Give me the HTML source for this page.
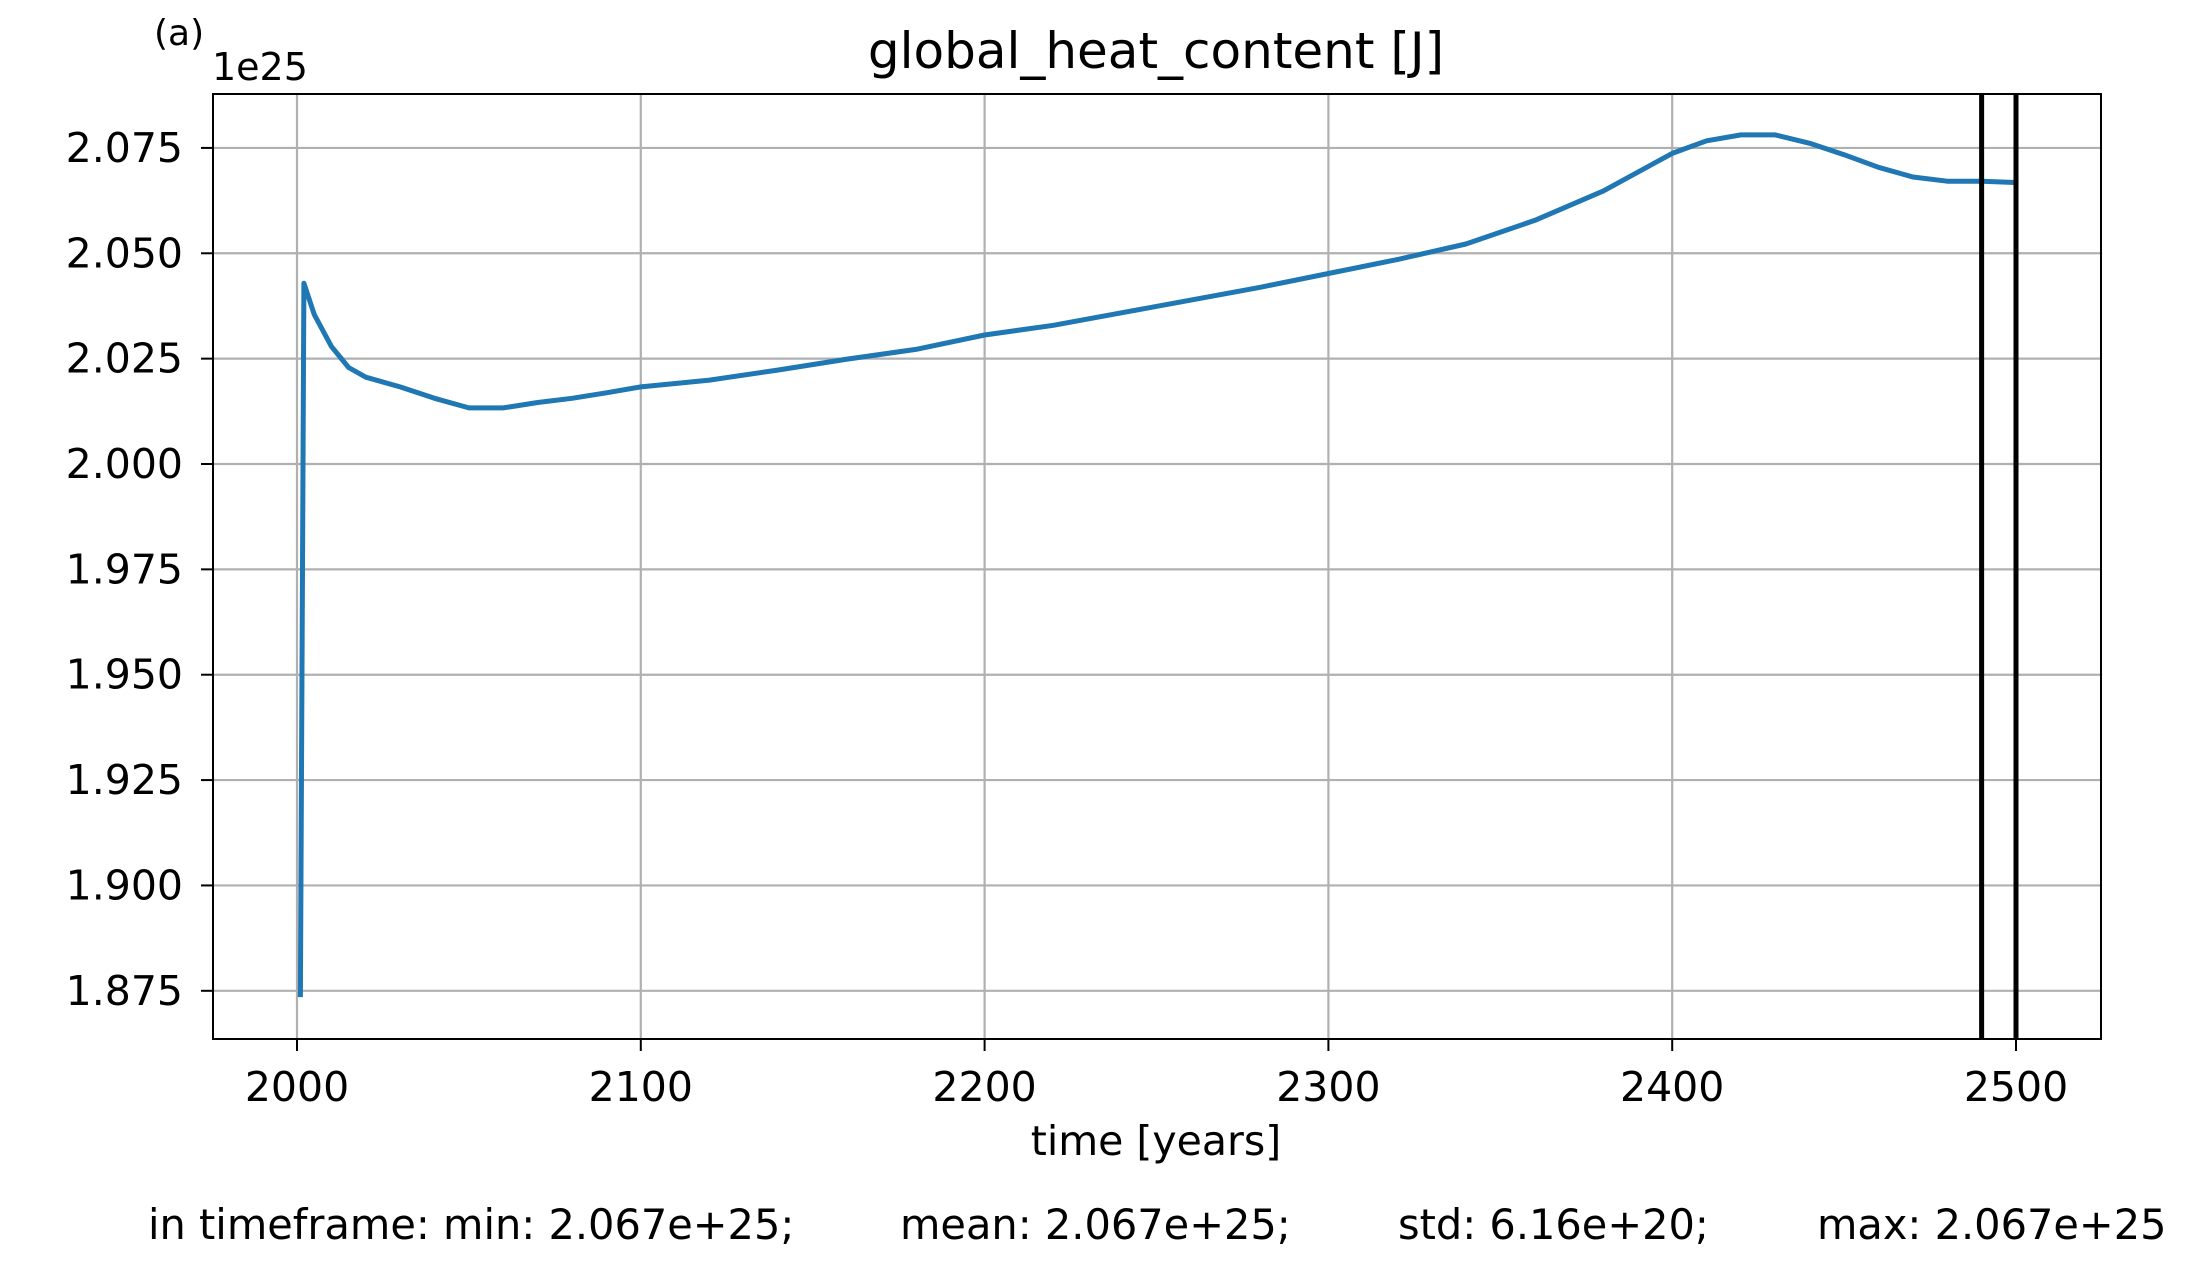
<!DOCTYPE html>
<html><head><meta charset="utf-8"><style>
html,body{margin:0;padding:0;background:#fff}
svg{display:block;font-family:"DejaVu Sans","Liberation Sans",sans-serif}
</style></head><body>
<svg id="chart" width="2196" height="1263" viewBox="0 0 2196 1263">
<rect width="2196" height="1263" fill="#fff"/>
<g id="grid"></g>
<g id="series"></g>
<rect x="213" y="94" width="1888" height="945" fill="none" stroke="#000" stroke-width="2"/>
<g id="ticks"></g>
<text x="154" y="45" font-size="36">(a)</text>
<text x="212" y="80" font-size="38">1e25</text>
<text x="1156" y="68" font-size="50" text-anchor="middle">global_heat_content [J]</text>
<text x="1156" y="1155" font-size="41" text-anchor="middle">time [years]</text>
<text x="148" y="1239" font-size="41.5">in timeframe: min: 2.067e+25;</text>
<text x="900" y="1239" font-size="41.5">mean: 2.067e+25;</text>
<text x="1398" y="1239" font-size="41.5">std: 6.16e+20;</text>
<text x="1817" y="1239" font-size="41.5">max: 2.067e+25</text>
</svg>
<script>
const years=[2001,2002,2005,2010,2015,2020,2030,2040,2050,2060,2070,2080,2090,2100,2120,2140,2160,2180,2200,2220,2240,2260,2280,2300,2320,2340,2360,2380,2400,2410,2420,2430,2440,2450,2460,2470,2480,2490,2500];
const heat=[1.8741,2.0429,2.0355,2.0279,2.0229,2.0206,2.0183,2.0156,2.0133,2.0133,2.0146,2.0156,2.0169,2.0183,2.0199,2.0223,2.0249,2.0272,2.0306,2.0329,2.0359,2.0389,2.0419,2.0452,2.0485,2.0522,2.0578,2.0648,2.0737,2.0767,2.0781,2.0781,2.0761,2.0734,2.0704,2.0681,2.0671,2.0671,2.0668];
const xTicks=[2000,2100,2200,2300,2400,2500];
const yTicks=[1.875,1.900,1.925,1.950,1.975,2.000,2.025,2.050,2.075];
const markerYears=[2490,2500];
const NS="http://www.w3.org/2000/svg";
function xs(t){return 297+(t-2000)*3.438;}
function ys(v){return 464-(v-2.0)*4214.4;}
const grid=document.getElementById('grid'),ticks=document.getElementById('ticks'),series=document.getElementById('series');
function mk(tag,attrs,parent){const e=document.createElementNS(NS,tag);for(const k in attrs)e.setAttribute(k,attrs[k]);parent.appendChild(e);return e;}
xTicks.forEach(t=>{
  const g=mk('line',{x1:xs(t),x2:xs(t),y1:94,y2:1039,stroke:'#b0b0b0','stroke-width':2.2},grid);
  
  
  const tk=mk('line',{x1:xs(t),x2:xs(t),y1:1039,y2:1051,stroke:'#000','stroke-width':2},ticks);
  
  
  const tx=mk('text',{x:xs(t),y:1101,'font-size':41,'text-anchor':'middle'},ticks);
  tx.textContent=t;
  
  
});
yTicks.forEach(v=>{
  const g=mk('line',{x1:213,x2:2101,y1:ys(v),y2:ys(v),stroke:'#b0b0b0','stroke-width':2.2},grid);
  
  
  const tk=mk('line',{x1:201,x2:213,y1:ys(v),y2:ys(v),stroke:'#000','stroke-width':2},ticks);
  
  
  const tx=mk('text',{x:183,y:ys(v)+14,'font-size':41,'text-anchor':'end'},ticks);
  tx.textContent=v.toFixed(3);
  
  
});
const d=years.map((t,i)=>(i?'L':'M')+xs(t).toFixed(1)+','+ys(heat[i]).toFixed(1)).join(' ');
const p=mk('path',{d:d,fill:'none',stroke:'#1f77b4','stroke-width':5,'stroke-linejoin':'round','stroke-linecap':'square'},series);


markerYears.forEach(t=>{
  const l=mk('line',{x1:xs(t),x2:xs(t),y1:94,y2:1039,stroke:'#000','stroke-width':5},series);
  
  
});
</script>
</body></html>
